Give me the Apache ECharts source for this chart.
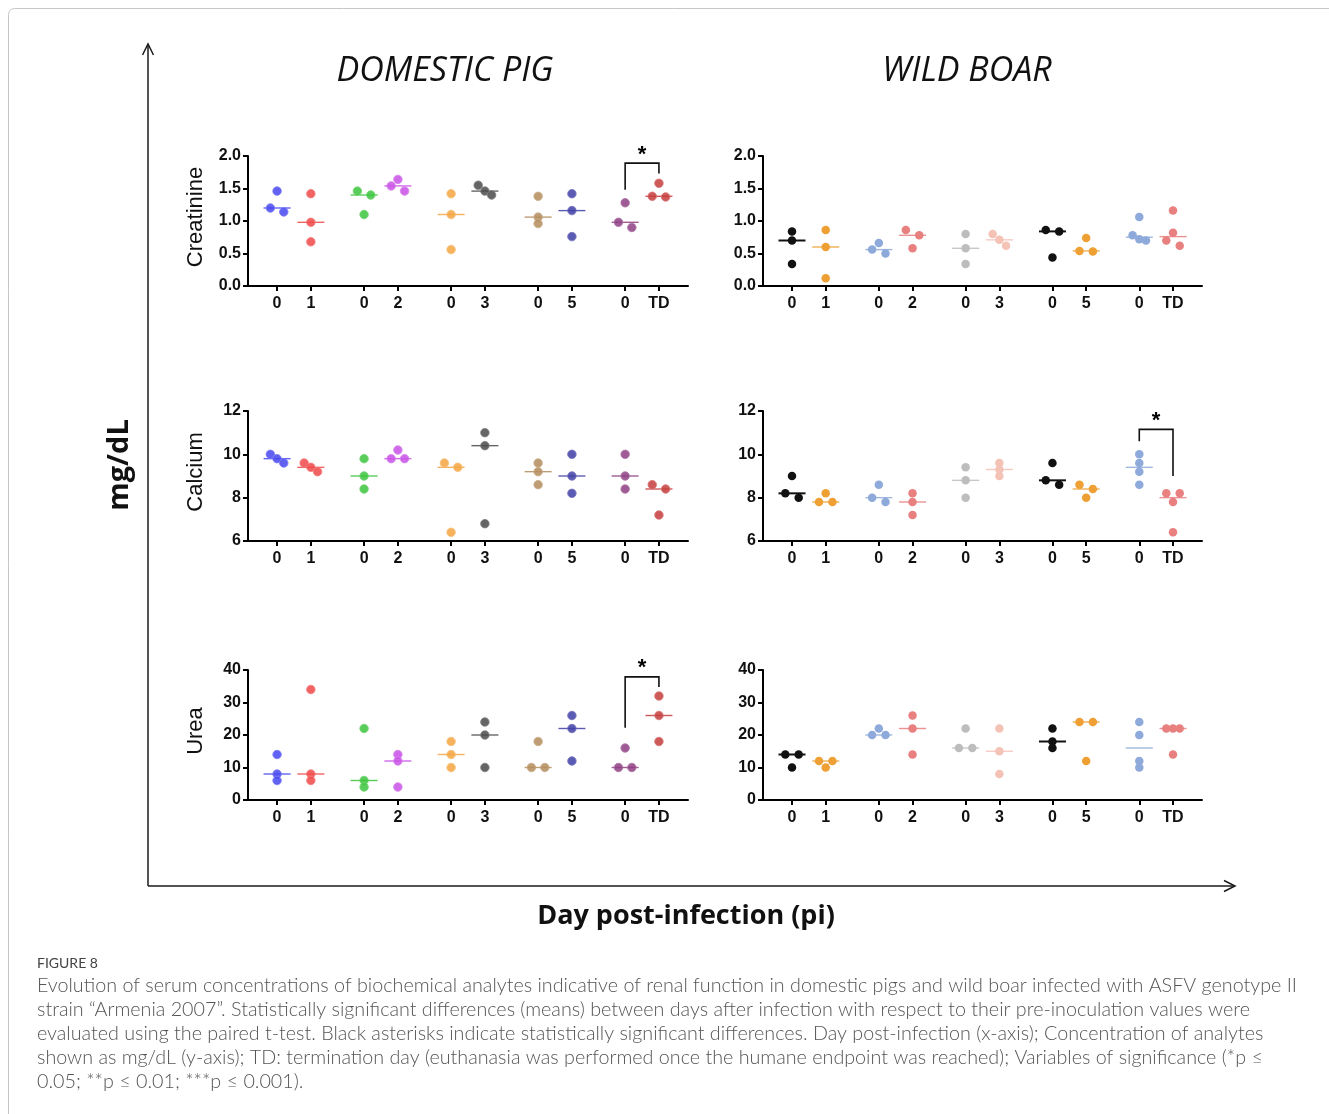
<!DOCTYPE html>
<html><head><meta charset="utf-8">
<script src="https://cdn.jsdelivr.net/npm/echarts@6/dist/echarts.min.js"></script>
<style>html,body{margin:0;padding:0;background:#fff}#c{width:1329px;height:1114px}</style>
</head><body><div id="c"></div>
<script>
// ---------- DATA ----------
const dayLabels = ['0','1','0','2','0','3','0','5','0','TD'];
const speciesTitles = ['DOMESTIC PIG','WILD BOAR'];
const analyteNames = ['Creatinine','Calcium','Urea'];
const yAxisTitle = 'mg/dL';
const xAxisTitle = 'Day post-infection (pi)';

// domestic pig (each entry = one day group, individual animals)
const dpCreatinine = [[1.46,1.20,1.14],[1.42,0.98,0.68],[1.46,1.40,1.10],[1.64,1.54,1.46],[1.42,1.10,0.56],[1.55,1.46,1.40],[1.38,1.06,0.96],[1.42,1.16,0.76],[1.28,0.98,0.90],[1.58,1.38,1.37]];
const dpCalcium    = [[10.0,9.8,9.6],[9.6,9.4,9.2],[9.8,9.0,8.4],[10.2,9.8,9.8],[9.6,9.4,6.4],[11.0,10.4,6.8],[9.6,9.2,8.6],[10.0,9.0,8.2],[10.0,9.0,8.4],[8.6,8.4,7.2]];
const dpUrea       = [[14,8,6],[34,8,6],[22,6,4],[14,12,4],[18,14,10],[24,20,10],[18,10,10],[26,22,12],[16,10,10],[32,26,18]];
// wild boar
const wbCreatinine = [[0.84,0.70,0.34],[0.86,0.60,0.12],[0.66,0.56,0.50],[0.86,0.78,0.58],[0.80,0.58,0.34],[0.80,0.71,0.62],[0.86,0.84,0.44],[0.74,0.54,0.53],[1.06,0.78,0.72,0.70],[1.16,0.82,0.70,0.62]];
const wbCalcium    = [[9.0,8.2,8.0],[8.2,7.8,7.8],[8.6,8.0,7.8],[8.2,7.8,7.2],[9.4,8.8,8.0],[9.6,9.3,9.0],[9.6,8.8,8.6],[8.6,8.4,8.0],[10.0,9.6,9.2,8.6],[8.2,8.2,7.8,6.4]];
const wbUrea       = [[14,14,10],[12,12,10],[22,20,20],[26,22,14],[22,16,16],[22,15,8],[22,18,16],[24,24,12],[24,20,12,10],[22,22,22,14]];

// significance brackets: [leftGroup, rightGroup, leftLegBottom, top, rightLegBottom, starLevel]
const dpCreatinineSig = [8, 9, 1.48, 1.89, 1.73, 2.02];
const dpUreaSig       = [8, 9, 22.2, 37.9, 34.8, 40.6];
const wbCalciumSig    = [8, 9, 10.6, 11.15, 9.0, 11.55];

const yRanges = { Creatinine:[0,2,0.5,1], Calcium:[6,12,2,0], Urea:[0,40,10,0] };

const captionTitle = 'FIGURE 8';
const captionLines = [
 'Evolution of serum concentrations of biochemical analytes indicative of renal function in domestic pigs and wild boar infected with ASFV genotype II',
 'strain \u201CArmenia 2007\u201D. Statistically significant differences (means) between days after infection with respect to their pre-inoculation values were',
 'evaluated using the paired t-test. Black asterisks indicate statistically significant differences. Day post-infection (x-axis); Concentration of analytes',
 'shown as mg/dL (y-axis); TD: termination day (euthanasia was performed once the humane endpoint was reached); Variables of significance (*p \u2264',
 '0.05; **p \u2264 0.01; ***p \u2264 0.001).'
];

// ---------- STYLE ----------
const dpColors = ['#4646f0','#f04848','#3cc43c','#c850e6','#f5a540','#4a4a4a','#b48c5c','#3e3ea6','#8e3e82','#c63c3c'];
const wbColors = ['#111111','#eea035','#8eaadb','#e88080','#bdbdbd','#f5c2b6','#111111','#eea035','#8eaadb','#e88080'];

const X_MIN = -0.86, X_MAX = 12.16, PAIR_STEP = 2.575;
const groupX = dayLabels.map((_, g) => Math.floor(g / 2) * PAIR_STEP + (g % 2));
const LEFT = [248, 763], WIDTH = [440, 439], TOPS = [156, 411, 670], H = 130;
const MED_HALF_PX = 13.5, SLOT_PX = 6.7, ROW_GAP_PX = 6;

function median(a){ const s=[...a].sort((x,y)=>x-y); const n=s.length; return n%2 ? s[(n-1)/2] : (s[n/2-1]+s[n/2])/2; }
function swarm(vals, pxPerY, step){
  const order = vals.map((v,i)=>i).sort((a,b)=>vals[b]-vals[a]);
  const rows=[]; let cur=null;
  for (const i of order){
    if (cur && (vals[cur[cur.length-1]]-vals[i])*pxPerY < ROW_GAP_PX) cur.push(i);
    else { cur=[i]; rows.push(cur); }
  }
  const off = new Array(vals.length).fill(0);
  rows.forEach(r=>{ const n=r.length; r.forEach((i,k)=>{ off[i] = n===2 ? (k===0?-step:step) : (k-(n-1)/2)*step; }); });
  return off;
}

const panels = [
  {data:dpCreatinine, sp:0, row:0, an:'Creatinine', sig:dpCreatinineSig},
  {data:wbCreatinine, sp:1, row:0, an:'Creatinine'},
  {data:dpCalcium,    sp:0, row:1, an:'Calcium'},
  {data:wbCalcium,    sp:1, row:1, an:'Calcium', sig:wbCalciumSig},
  {data:dpUrea,       sp:0, row:2, an:'Urea', sig:dpUreaSig},
  {data:wbUrea,       sp:1, row:2, an:'Urea'}
];

const grids=[], xAxes=[], yAxes=[], series=[];
const FONT = 'Liberation Sans, Arial, sans-serif';
panels.forEach((p, i) => {
  const [ymin, ymax, yint, dec] = yRanges[p.an];
  const colors = p.sp === 0 ? dpColors : wbColors;
  const pxPerX = WIDTH[p.sp] / (X_MAX - X_MIN);
  const pxPerY = H / (ymax - ymin);
  grids.push({left:LEFT[p.sp], top:TOPS[p.row], width:WIDTH[p.sp], height:H});
  xAxes.push({gridIndex:i, type:'value', min:X_MIN, max:X_MAX,
    axisLine:{show:true, onZero:false, lineStyle:{color:'#000', width:2}},
    splitLine:{show:false},
    axisTick:{show:true, customValues:groupX, length:5, lineStyle:{color:'#000', width:2}},
    axisLabel:{customValues:groupX, margin:10, color:'#111', fontWeight:'bold', fontSize:16, fontFamily:FONT,
      formatter:(v)=>{ let b=0; groupX.forEach((x,g)=>{ if (Math.abs(x-v)<Math.abs(groupX[b]-v)) b=g; }); return dayLabels[b]; }}
  });
  yAxes.push({gridIndex:i, type:'value', min:ymin, max:ymax, interval:yint,
    axisLine:{show:true, onZero:false, lineStyle:{color:'#000', width:2}},
    splitLine:{show:false},
    axisTick:{show:true, length:5, lineStyle:{color:'#000', width:2}},
    axisLabel:{margin:7, color:'#111', fontWeight:'bold', fontSize:16, fontFamily:FONT, formatter:(v)=>v.toFixed(dec)}
  });
  // median lines
  const half = MED_HALF_PX / pxPerX;
  series.push({type:'custom', xAxisIndex:i, yAxisIndex:i, coordinateSystem:'cartesian2d', silent:true, clip:false, z:2,
    data: p.data.map((vals,g)=>[groupX[g], median(vals), g]),
    renderItem:(params, api)=>{
      const g = api.value(2);
      const a = api.coord([api.value(0)-half, api.value(1)]);
      const b = api.coord([api.value(0)+half, api.value(1)]);
      const dark = p.sp===1 && colors[g]==='#111111';
      return {type:'line', shape:{x1:a[0],y1:a[1],x2:b[0],y2:b[1]},
        style:{stroke:colors[g], lineWidth: dark?2:1.4, opacity: dark?1:0.85}};
    }});
  // points
  const pts=[];
  p.data.forEach((vals,g)=>{
    const off = swarm(vals, pxPerY, SLOT_PX/pxPerX);
    vals.forEach((v,k)=>pts.push({value:[groupX[g]+off[k], v],
      itemStyle: p.sp===0
        ? {color:colors[g], opacity:0.85, borderColor:echarts.color.lift(colors[g], 0.3), borderWidth:1}
        : {color:colors[g], opacity:1}}));
  });
  series.push({type:'scatter', xAxisIndex:i, yAxisIndex:i, symbol:'circle', symbolSize:8.5, z:3, silent:true, clip:false, data:pts});
  // significance bracket
  if (p.sig){
    series.push({type:'custom', xAxisIndex:i, yAxisIndex:i, coordinateSystem:'cartesian2d', silent:true, clip:false, z:4,
      data:[[groupX[p.sig[0]], groupX[p.sig[1]], p.sig[2], p.sig[3], p.sig[4], p.sig[5]]],
      renderItem:(params, api)=>{
        const xl=api.value(0), xr=api.value(1);
        const a=api.coord([xl, api.value(2)]), b=api.coord([xl, api.value(3)]),
              c=api.coord([xr, api.value(3)]), d=api.coord([xr, api.value(4)]),
              s=api.coord([(xl+xr)/2, api.value(5)]);
        return {type:'group', children:[
          {type:'polyline', shape:{points:[a,b,c,d]}, style:{stroke:'#111', fill:null, lineWidth:1.6}},
          {type:'text', x:s[0], y:s[1], style:{text:'*', fill:'#000', fontSize:22, fontWeight:'bold', fontFamily:FONT, align:'center', verticalAlign:'middle'}}
        ]};
      }});
  }
});

// caption font fitting
const cctx = document.createElement('canvas').getContext('2d');
const CAP_FAMILY = 'Lato, "Open Sans", sans-serif';
cctx.font = '300 100px ' + CAP_FAMILY;
const capSize = 100 * 1261 / cctx.measureText(captionLines[0]).width;

const graphic = [
  {type:'rect', silent:true, shape:{x:8.5, y:8.5, width:1360, height:1150, r:6}, style:{fill:null, stroke:'#c6c6c6', lineWidth:1}},
  {type:'line', silent:true, shape:{x1:148, y1:886, x2:148, y2:45}, style:{stroke:'#1a1a1a', lineWidth:1.5}},
  {type:'polyline', silent:true, shape:{points:[[142.5,55],[148,44],[153.5,55]]}, style:{stroke:'#1a1a1a', fill:null, lineWidth:1.5}},
  {type:'line', silent:true, shape:{x1:148, y1:886, x2:1234, y2:886}, style:{stroke:'#1a1a1a', lineWidth:1.5}},
  {type:'polyline', silent:true, shape:{points:[[1224,880.5],[1235,886],[1224,891.5]]}, style:{stroke:'#1a1a1a', fill:null, lineWidth:1.5}},
  {type:'text', silent:true, x:445, y:71, style:{text:speciesTitles[0], fill:'#111', fontSize:34, fontStyle:'italic', fontFamily:'"Open Sans", sans-serif', align:'center', verticalAlign:'middle'}},
  {type:'text', silent:true, x:967, y:71, style:{text:speciesTitles[1], fill:'#111', fontSize:34, fontStyle:'italic', fontFamily:'"Open Sans", sans-serif', align:'center', verticalAlign:'middle'}},
  {type:'text', silent:true, x:120, y:465, rotation:Math.PI/2, style:{text:yAxisTitle, fill:'#111', fontSize:29, fontWeight:'bold', fontFamily:'"Open Sans", sans-serif', align:'center', verticalAlign:'middle'}},
  {type:'text', silent:true, x:686, y:916, style:{text:xAxisTitle, fill:'#111', fontSize:27, fontWeight:'bold', fontFamily:'"Open Sans", sans-serif', align:'center', verticalAlign:'middle'}},
  {type:'text', silent:true, x:37, y:963, style:{text:captionTitle, fill:'#444', fontSize:14, fontFamily:CAP_FAMILY, align:'left', verticalAlign:'middle'}}
];
analyteNames.forEach((n, r)=>{
  graphic.push({type:'text', silent:true, x:196, y:TOPS[r]+H/2-4, rotation:Math.PI/2,
    style:{text:n, fill:'#111', fontSize:22, fontFamily:FONT, align:'center', verticalAlign:'middle'}});
});
captionLines.forEach((t, k)=>{
  graphic.push({type:'text', silent:true, x:37, y:986+24*k,
    style:{text:t, fill:'#555', fontSize:capSize, fontWeight:300, fontFamily:CAP_FAMILY, align:'left', verticalAlign:'middle'}});
});

const chart = echarts.init(document.getElementById('c'), null, {renderer:'canvas'});
chart.setOption({animation:false, backgroundColor:'#fff', grid:grids, xAxis:xAxes, yAxis:yAxes, series:series, graphic:graphic});
</script></body></html>
